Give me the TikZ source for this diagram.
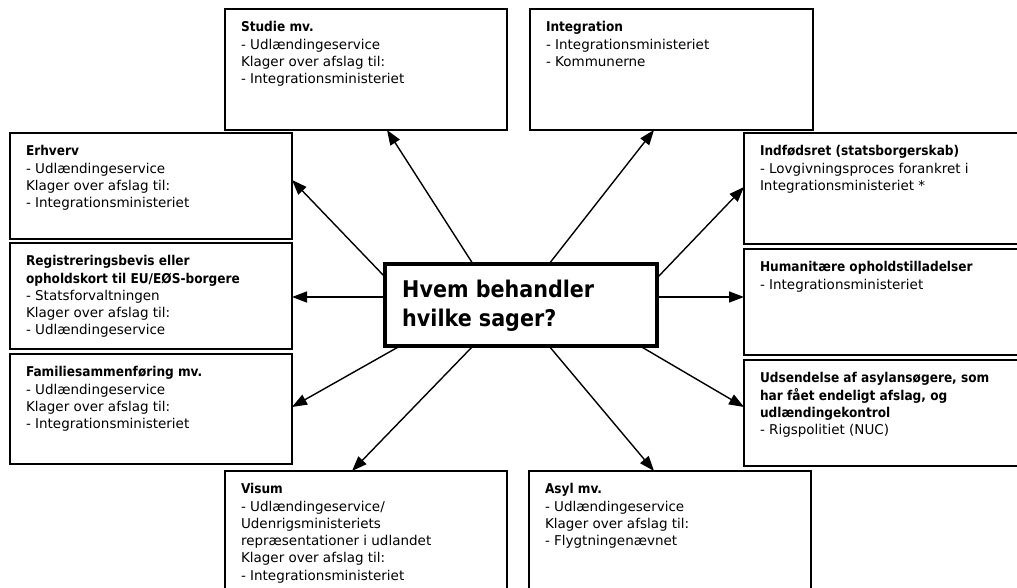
\documentclass[tikz,border=0pt]{standalone}
\usepackage{fontspec}
\setmainfont{DejaVu Sans}
\newfontfamily\condfnt{DejaVu Sans Condensed}
\usetikzlibrary{arrows.meta}
\newcommand{\bodyfnt}{\fontsize{13.5}{17.3}\selectfont}
\newcommand{\titlefnt}{\condfnt\fontsize{23}{29}\selectfont\bfseries}
\newcommand{\hd}[1]{{\condfnt\bfseries #1}}
\tikzset{
  box/.style={draw, line width=1.3pt, anchor=north west, inner sep=0pt, outer sep=0pt},
  txt/.style={anchor=north west, inner sep=0pt, outer sep=0pt, align=left, font=\bodyfnt,
    execute at begin node={\rule{0pt}{11pt}}},
  arr/.style={line width=1.4pt, -{Triangle[length=15pt,width=11pt]}},
}
\begin{document}
\begin{tikzpicture}[x=1pt,y=-1pt]
\useasboundingbox (0,0) rectangle (1017,588);
\clip (0,0) rectangle (1017,588);
\fill[white] (0,0) rectangle (1017,588);
% boxes
\node[box, minimum width=282pt, minimum height=121pt] (studie) at (225,9) {};
\node[box, minimum width=283pt, minimum height=121pt] (integ) at (530,9) {};
\node[box, minimum width=282pt, minimum height=106pt] (erhv) at (10,133) {};
\node[box, minimum width=282pt, minimum height=106pt] (reg) at (10,243) {};
\node[box, minimum width=282pt, minimum height=110pt] (fam) at (10,354) {};
\node[box, minimum width=282pt, minimum height=140pt] (visum) at (225,471) {};
\node[box, minimum width=300pt, minimum height=111pt] (indf) at (744,133) {};
\node[box, minimum width=300pt, minimum height=106pt] (hum) at (744,249) {};
\node[box, minimum width=300pt, minimum height=106pt] (uds) at (744,360) {};
\node[box, minimum width=282pt, minimum height=140pt] (asyl) at (529,471) {};
% texts
\node[txt] (studie-t) at ([xshift=16pt,yshift=-12.5pt]studie.north west)
  {\hd{Studie mv.}\\- Udlændingeservice\\Klager over afslag til:\\- Integrationsministeriet};
\node[txt] (integ-t) at ([xshift=16pt,yshift=-12.5pt]integ.north west)
  {\hd{Integration}\\- Integrationsministeriet\\- Kommunerne};
\node[txt] (erhv-t) at ([xshift=16pt,yshift=-12.5pt]erhv.north west)
  {\hd{Erhverv}\\- Udlændingeservice\\Klager over afslag til:\\- Integrationsministeriet};
\node[txt] (reg-t) at ([xshift=16pt,yshift=-12.5pt]reg.north west)
  {\hd{Registreringsbevis eller}\\\hd{opholdskort til EU/EØS-borgere}\\- Statsforvaltningen\\Klager over afslag til:\\- Udlændingeservice};
\node[txt] (fam-t) at ([xshift=16pt,yshift=-12.5pt]fam.north west)
  {\hd{Familiesammenføring mv.}\\- Udlændingeservice\\Klager over afslag til:\\- Integrationsministeriet};
\node[txt] (visum-t) at ([xshift=16pt,yshift=-12.5pt]visum.north west)
  {\hd{Visum}\\- Udlændingeservice/\\Udenrigsministeriets\\repræsentationer i udlandet\\Klager over afslag til:\\- Integrationsministeriet};
\node[txt] (indf-t) at ([xshift=16pt,yshift=-12.5pt]indf.north west)
  {\hd{Indfødsret (statsborgerskab)}\\- Lovgivningsproces forankret i\\Integrationsministeriet *};
\node[txt] (hum-t) at ([xshift=16pt,yshift=-12.5pt]hum.north west)
  {\hd{Humanitære opholdstilladelser}\\- Integrationsministeriet};
\node[txt] (uds-t) at ([xshift=16pt,yshift=-12.5pt]uds.north west)
  {\hd{Udsendelse af asylansøgere, som}\\\hd{har fået endeligt afslag, og}\\\hd{udlændingekontrol}\\- Rigspolitiet (NUC)};
\node[txt] (asyl-t) at ([xshift=16pt,yshift=-12.5pt]asyl.north west)
  {\hd{Asyl mv.}\\- Udlændingeservice\\Klager over afslag til:\\- Flygtningenævnet};
% centre
\node[draw, line width=4pt, anchor=north west, inner sep=0pt, outer sep=0pt,
  minimum width=272pt, minimum height=82pt] (c) at (385,264) {};
\node[anchor=north west, inner sep=0pt, align=left, font=\titlefnt,
  execute at begin node={\rule{0pt}{18pt}}] (c-t) at ([xshift=17pt,yshift=-16pt]c.north west)
  {Hvem behandler\\hvilke sager?};
% arrows
\draw[arr] ([xshift=88pt]c.north west) -- ([xshift=162pt]studie.south west);
\draw[arr] ([xshift=164pt]c.north west) -- ([xshift=124pt]integ.south west);
\draw[arr] ([yshift=-13pt]c.north west) -- ([yshift=59pt]erhv.south east);
\draw[arr] ([yshift=-33pt]c.north west) -- ([yshift=-54pt]reg.north east);
\draw[arr] ([xshift=15pt]c.south west) -- ([yshift=-53pt]fam.north east);
\draw[arr] ([xshift=88pt]c.south west) -- ([xshift=127pt]visum.north west);
\draw[arr] ([yshift=-14pt]c.north east) -- ([yshift=-54pt]indf.north west);
\draw[arr] ([yshift=-33pt]c.north east) -- ([yshift=-48pt]hum.north west);
\draw[arr] ([xshift=-17pt]c.south east) -- ([yshift=-47pt]uds.north west);
\draw[arr] ([xshift=164pt]c.south west) -- ([xshift=125pt]asyl.north west);
\end{tikzpicture}
\end{document}
